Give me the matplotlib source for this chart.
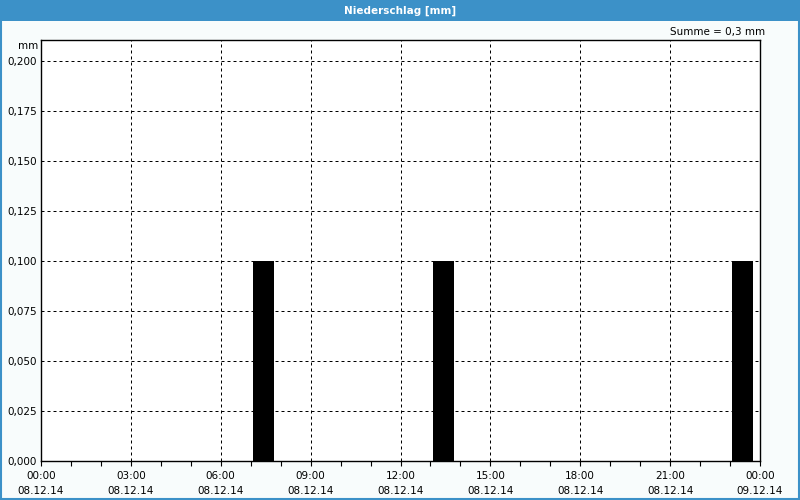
import matplotlib.pyplot as plt
import matplotlib.patches as patches
import numpy as np

# precipitation, hours since 08.12.14 00:00 (bar start) and value in mm
bar_start = [7.08, 13.08, 23.08]
bar_value = [0.1, 0.1, 0.1]
bar_width = 0.7

x_ticks = [0, 3, 6, 9, 12, 15, 18, 21, 24]
x_labels = ["00:00\n08.12.14", "03:00\n08.12.14", "06:00\n08.12.14", "09:00\n08.12.14",
            "12:00\n08.12.14", "15:00\n08.12.14", "18:00\n08.12.14", "21:00\n08.12.14",
            "00:00\n09.12.14"]
y_ticks = [0, 0.025, 0.05, 0.075, 0.1, 0.125, 0.15, 0.175, 0.2]
y_labels = ["0,000", "0,025", "0,050", "0,075", "0,100", "0,125", "0,150", "0,175", "0,200"]

W, H = 800, 500
blue = "#3c91c8"
fig = plt.figure(figsize=(8, 5), dpi=100, facecolor="#f8fcfc")

# title bar + frame
fig.patches.append(patches.Rectangle((0, 1 - 21 / H), 1, 21 / H, transform=fig.transFigure,
                                     facecolor=blue, edgecolor="none", zorder=0))
fig.patches.append(patches.Rectangle((1 / W, 1 / H), 1 - 2 / W, 1 - 2 / H, transform=fig.transFigure,
                                     facecolor="none", edgecolor=blue, linewidth=1.5, zorder=5))
fig.text(0.5, 1 - 10.5 / H, "Niederschlag [mm]", color="white", fontsize=7.5,
         fontweight="bold", ha="center", va="center")

ax = fig.add_axes([41 / W, 39 / H, 719 / W, 421 / H])
ax.set_facecolor("white")
ax.bar(bar_start, bar_value, width=bar_width, align="edge", color="black", zorder=3)

ax.set_xlim(0, 24)
ax.set_ylim(0, 0.2105)
ax.set_xticks(x_ticks)
ax.set_xticklabels(x_labels, fontsize=7.5, linespacing=1.6)
ax.set_xticks(np.arange(0, 25, 1), minor=True)
ax.set_yticks(y_ticks)
ax.set_yticklabels(y_labels, fontsize=7.5)
ax.tick_params(axis="x", which="both", length=3.5, width=0.8, direction="out", pad=4)
ax.tick_params(axis="y", length=0, pad=3)

ax.grid(True, which="major", color="black", linestyle=(0, (3, 3)), linewidth=0.72, zorder=1)
for s in ax.spines.values():
    s.set_linewidth(1.0)
    s.set_color("black")

fig.text(38 / W, 1 - 46 / H, "mm", fontsize=7.5, ha="right", va="center")
fig.text(765 / W, 1 - 32 / H, "Summe = 0,3 mm", fontsize=7.5, ha="right", va="center")

fig.savefig("out.png", dpi=100, facecolor=fig.get_facecolor())
